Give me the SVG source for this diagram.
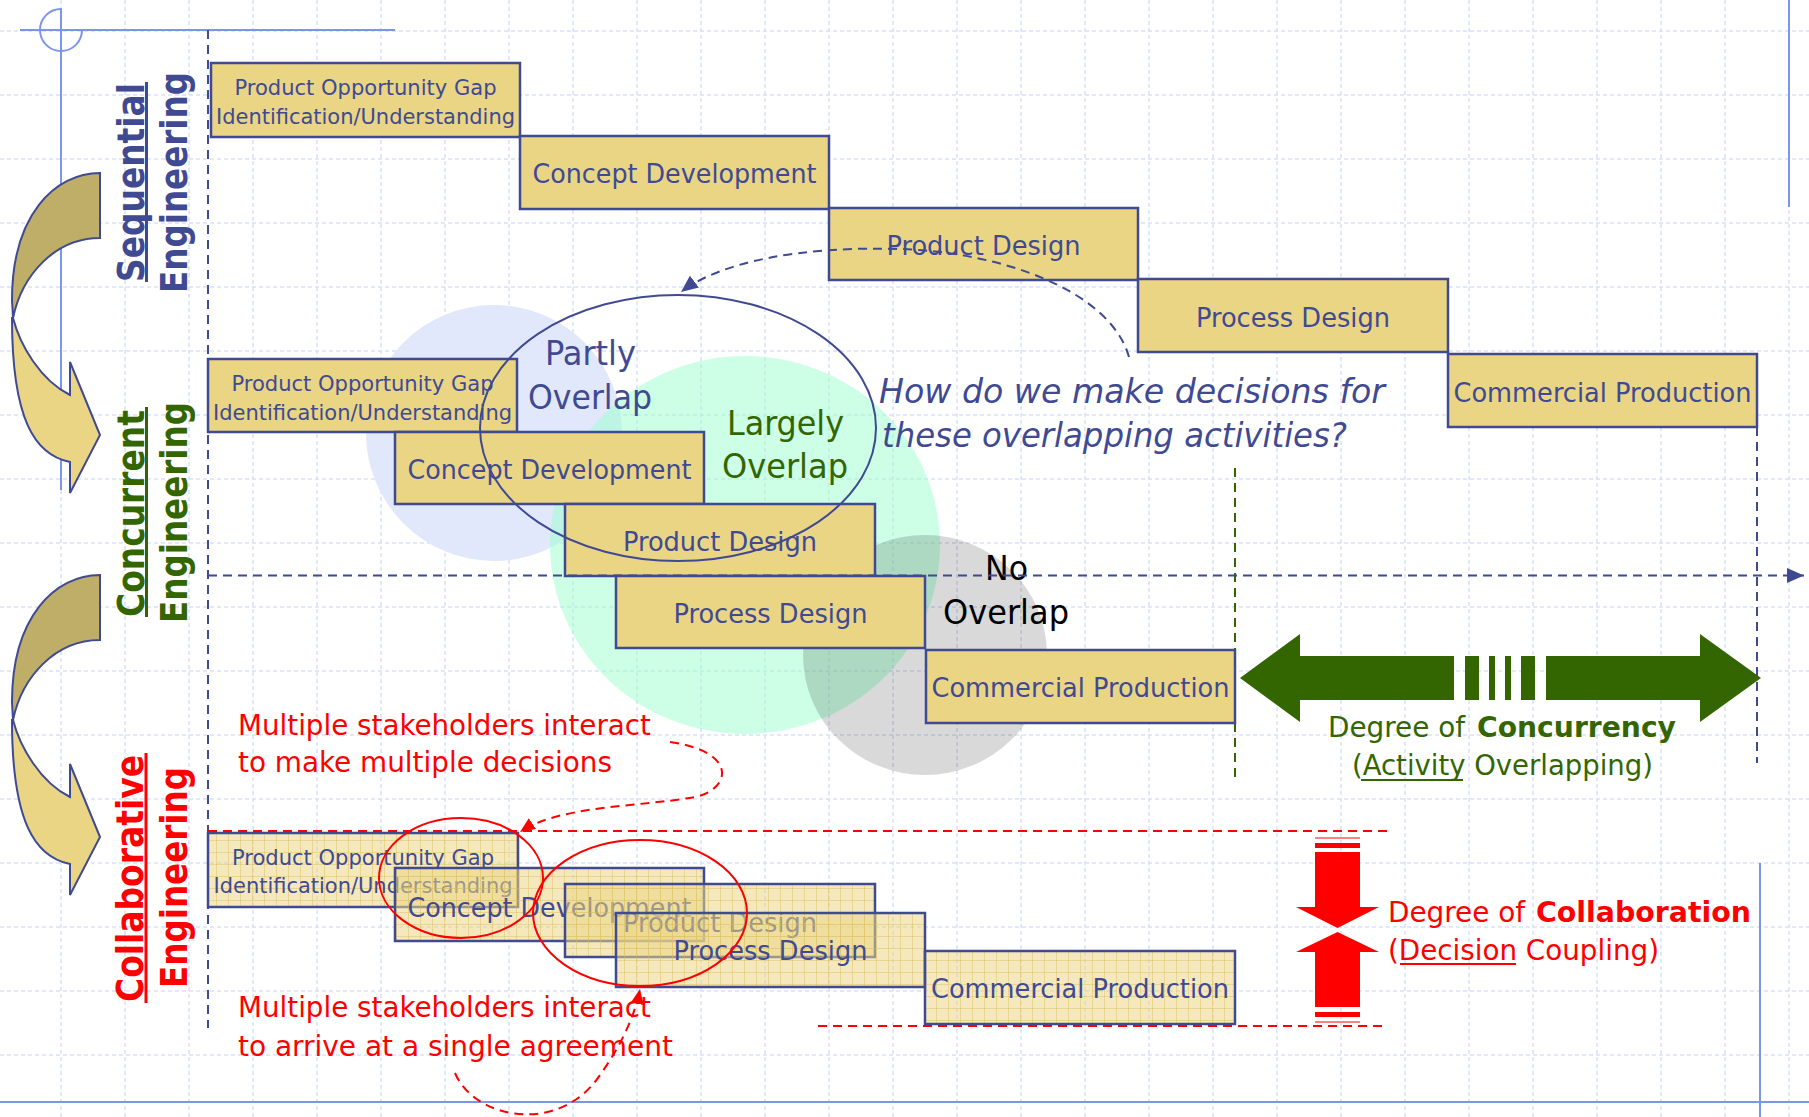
<svg xmlns="http://www.w3.org/2000/svg" xmlns:xlink="http://www.w3.org/1999/xlink" width="1809" height="1117" viewBox="0 0 1809 1117">
<style>
.grid{fill:none;stroke:#d8e1fa;stroke-width:1.5;stroke-dasharray:4 3}
.deco{fill:none;stroke:#7b95ee;stroke-width:2}
.box{fill:#ead584;stroke:#3f4a93;stroke-width:2.5}
.cbox{fill:url(#hatch);stroke:#3f4a93;stroke-width:2.5}
.bt{font-family:"DejaVu Sans Condensed","DejaVu Sans",sans-serif;fill:#3f4a93;text-anchor:middle}
.s22{font-size:22px}
.s26{font-size:26px}
.vl{font-family:"DejaVu Sans",Verdana,sans-serif;font-weight:bold;font-size:38px}
.cn{font-family:"DejaVu Sans Condensed","DejaVu Sans",sans-serif}
.blue{fill:#3f4a93}
.green{fill:#336600}
.red{fill:#ff0000}
.dashB{fill:none;stroke:#3f4a93;stroke-width:2;stroke-dasharray:9 6}
.dashR{fill:none;stroke:#ff0000;stroke-width:2;stroke-dasharray:9 6}
.cab{fill:#bfae68;stroke:#3f4a93;stroke-width:2}
.caf{fill:#ead584;stroke:#3f4a93;stroke-width:2}
</style>
<defs>
<pattern id="hatch" width="12" height="12" patternUnits="userSpaceOnUse">
<rect width="12" height="12" fill="#ead584" fill-opacity="0.55"/>
<path d="M0,0.5H12M0.5,0V12" stroke="#d9bf60" stroke-opacity="0.45" stroke-width="1"/>
</pattern>
<marker id="arrB" markerUnits="userSpaceOnUse" markerWidth="17" markerHeight="15" refX="17" refY="7.5" orient="auto">
<path d="M0,0 L17,7.5 L0,15 Z" fill="#3f4a93"/>
</marker>
<marker id="arrR" markerUnits="userSpaceOnUse" markerWidth="15" markerHeight="13" refX="15" refY="6.5" orient="auto">
<path d="M0,0 L15,6.5 L0,13 Z" fill="#ff0000"/>
</marker>
<g id="curvedArrow">
<path class="cab" d="M100,173 C55,173 12,215 12,300 L13,318 C22,275 55,238 100,238 Z"/>
<path class="caf" d="M13,318 C20,345 40,380 70,395 L70,362 L100,435 L70,493 L70,462 C35,455 12,420 12,318 Z"/>
</g>
</defs>

<rect width="1809" height="1117" fill="#ffffff"/>

<g id="grid">
<path class="grid" d="M61,0V1117M125,0V1117M189,0V1117M253,0V1117M317,0V1117M381,0V1117M445,0V1117M509,0V1117M573,0V1117M637,0V1117M701,0V1117M765,0V1117M829,0V1117M893,0V1117M957,0V1117M1021,0V1117M1085,0V1117M1149,0V1117M1213,0V1117M1277,0V1117M1341,0V1117M1405,0V1117M1469,0V1117M1533,0V1117M1597,0V1117M1661,0V1117M1725,0V1117M1789,0V1117"/>
<path class="grid" d="M0,31H1809M0,95H1809M0,159H1809M0,223H1809M0,287H1809M0,351H1809M0,415H1809M0,479H1809M0,543H1809M0,607H1809M0,671H1809M0,735H1809M0,799H1809M0,863H1809M0,927H1809M0,991H1809M0,1055H1809"/>
</g>

<g id="decoration">
<line class="deco" x1="20" y1="30" x2="395" y2="30"/>
<line class="deco" x1="61" y1="8" x2="61" y2="490"/>
<path class="deco" d="M61,9 A21,21 0 1 0 82,30"/>
<line class="deco" x1="1789" y1="0" x2="1789" y2="207"/>
<line class="deco" x1="0" y1="1102" x2="1809" y2="1102"/>
<line class="deco" x1="1760" y1="863" x2="1760" y2="1117"/>
</g>

<g id="curved-arrow-1"><use xlink:href="#curvedArrow"/></g>
<g id="curved-arrow-2"><use xlink:href="#curvedArrow" transform="translate(0,402)"/></g>

<g id="label-sequential">
<text class="vl blue" transform="translate(143.5,282) rotate(-90)" textLength="199" lengthAdjust="spacingAndGlyphs">Sequential</text>
<rect x="145" y="82" width="3" height="200" class="blue"/>
<text class="vl blue" transform="translate(186.5,293) rotate(-90)" textLength="221" lengthAdjust="spacingAndGlyphs">Engineering</text>
</g>
<g id="label-concurrent">
<text class="vl green" transform="translate(143.5,617) rotate(-90)" textLength="207" lengthAdjust="spacingAndGlyphs">Concurrent</text>
<rect x="145" y="407" width="3" height="210" class="green"/>
<text class="vl green" transform="translate(186.5,623) rotate(-90)" textLength="221" lengthAdjust="spacingAndGlyphs">Engineering</text>
</g>
<g id="label-collaborative">
<text class="vl red" transform="translate(143,1002) rotate(-90)" textLength="247" lengthAdjust="spacingAndGlyphs">Collaborative</text>
<rect x="144.5" y="753" width="3" height="250" class="red"/>
<text class="vl red" transform="translate(186.5,988) rotate(-90)" textLength="221" lengthAdjust="spacingAndGlyphs">Engineering</text>
</g>

<g id="overlap-zones">
<circle cx="494" cy="433" r="128" fill="#e2e8fb"/>
<ellipse cx="745" cy="545" rx="195" ry="189" fill="#99ffcc" fill-opacity="0.5"/>
<ellipse cx="925" cy="655" rx="122" ry="120" fill="#000000" fill-opacity="0.15"/>
</g>

<g id="guides">
<line class="dashB" x1="208" y1="30" x2="208" y2="1028"/>
<line x1="1235" y1="468" x2="1235" y2="783" fill="none" stroke="#336600" stroke-width="2" stroke-dasharray="9 6"/>
<line class="dashB" x1="1757" y1="427" x2="1757" y2="763"/>
<line class="dashR" x1="208" y1="831" x2="1387" y2="831"/>
<line class="dashR" x1="818" y1="1026" x2="1387" y2="1026"/>
</g>

<g id="sequential-nodes">
<g id="seq-pog"><rect class="box" x="211" y="63" width="309" height="74"/>
<text class="bt s22" x="365.5" y="95" textLength="262" lengthAdjust="spacingAndGlyphs">Product Opportunity Gap</text>
<text class="bt s22" x="365.5" y="124" textLength="299" lengthAdjust="spacingAndGlyphs">Identification/Understanding</text></g>
<g id="seq-cd"><rect class="box" x="520" y="136" width="309" height="73"/>
<text class="bt s26" x="674.5" y="183" textLength="284" lengthAdjust="spacingAndGlyphs">Concept Development</text></g>
<g id="seq-pd"><rect class="box" x="829" y="208" width="309" height="72"/>
<text class="bt s26" x="983.5" y="255" textLength="194" lengthAdjust="spacingAndGlyphs">Product Design</text></g>
<g id="seq-procd"><rect class="box" x="1138" y="279" width="310" height="73"/>
<text class="bt s26" x="1293" y="327" textLength="194" lengthAdjust="spacingAndGlyphs">Process Design</text></g>
<g id="seq-cp"><rect class="box" x="1448" y="354" width="309" height="73"/>
<text class="bt s26" x="1602.5" y="402" textLength="298" lengthAdjust="spacingAndGlyphs">Commercial Production</text></g>
</g>

<g id="concurrent-nodes">
<g id="con-pog"><rect class="box" x="208" y="359" width="309" height="73"/>
<text class="bt s22" x="362.5" y="391" textLength="262" lengthAdjust="spacingAndGlyphs">Product Opportunity Gap</text>
<text class="bt s22" x="362.5" y="420" textLength="299" lengthAdjust="spacingAndGlyphs">Identification/Understanding</text></g>
<g id="con-cd"><rect class="box" x="395" y="432" width="309" height="72"/>
<text class="bt s26" x="549.5" y="479" textLength="284" lengthAdjust="spacingAndGlyphs">Concept Development</text></g>
<g id="con-pd"><rect class="box" x="565" y="504" width="310" height="72"/>
<text class="bt s26" x="720" y="551" textLength="194" lengthAdjust="spacingAndGlyphs">Product Design</text></g>
<g id="con-procd"><rect class="box" x="616" y="576" width="309" height="72"/>
<text class="bt s26" x="770.5" y="623" textLength="194" lengthAdjust="spacingAndGlyphs">Process Design</text></g>
<g id="con-cp"><rect class="box" x="926" y="650" width="309" height="73"/>
<text class="bt s26" x="1080.5" y="697" textLength="298" lengthAdjust="spacingAndGlyphs">Commercial Production</text></g>
</g>

<g id="collaborative-nodes">
<g id="col-pog"><rect class="cbox" x="208" y="833" width="310" height="74"/>
<text class="bt s22" x="363" y="865" textLength="262" lengthAdjust="spacingAndGlyphs">Product Opportunity Gap</text>
<text class="bt s22" x="363" y="893" textLength="299" lengthAdjust="spacingAndGlyphs">Identification/Understanding</text></g>
<g id="col-cd"><rect class="cbox" x="395" y="868" width="309" height="73"/>
<text class="bt s26" x="549.5" y="917" textLength="284" lengthAdjust="spacingAndGlyphs">Concept Development</text></g>
<g id="col-pd"><rect class="cbox" x="565" y="884" width="310" height="73"/>
<text class="bt s26" x="720" y="932" textLength="194" lengthAdjust="spacingAndGlyphs">Product Design</text></g>
<g id="col-procd"><rect class="cbox" x="616" y="913" width="309" height="74"/>
<text class="bt s26" x="770.5" y="960" textLength="194" lengthAdjust="spacingAndGlyphs">Process Design</text></g>
<g id="col-cp"><rect class="cbox" x="925" y="951" width="310" height="73"/>
<text class="bt s26" x="1080" y="998" textLength="298" lengthAdjust="spacingAndGlyphs">Commercial Production</text></g>
</g>

<g id="overlap-labels">
<ellipse cx="678" cy="428" rx="198" ry="133" fill="none" stroke="#3f4a93" stroke-width="2"/>
<text class="cn blue" font-size="34" x="545" y="365" textLength="91" lengthAdjust="spacingAndGlyphs">Partly</text>
<text class="cn blue" font-size="34" x="528" y="409" textLength="124" lengthAdjust="spacingAndGlyphs">Overlap</text>
<text class="cn green" font-size="34" x="727" y="435" textLength="117" lengthAdjust="spacingAndGlyphs">Largely</text>
<text class="cn green" font-size="34" x="722" y="478" textLength="126" lengthAdjust="spacingAndGlyphs">Overlap</text>
<text class="cn" fill="#000000" font-size="34" x="985" y="580" textLength="43" lengthAdjust="spacingAndGlyphs">No</text>
<text class="cn" fill="#000000" font-size="34" x="943" y="624" textLength="126" lengthAdjust="spacingAndGlyphs">Overlap</text>
<text class="cn blue" font-size="33" font-style="italic" x="879" y="403" textLength="506" lengthAdjust="spacingAndGlyphs">How do we make decisions for</text>
<text class="cn blue" font-size="33" font-style="italic" x="882" y="447" textLength="465" lengthAdjust="spacingAndGlyphs">these overlapping activities?</text>
</g>

<g id="collaboration-notes">
<ellipse cx="461" cy="878" rx="82" ry="60" fill="none" stroke="#ff0000" stroke-width="2"/>
<ellipse cx="640" cy="913" rx="107" ry="73" fill="none" stroke="#ff0000" stroke-width="2"/>
<text class="cn red" font-size="28" x="238" y="735" textLength="413" lengthAdjust="spacingAndGlyphs">Multiple stakeholders interact</text>
<text class="cn red" font-size="28" x="238" y="772" textLength="374" lengthAdjust="spacingAndGlyphs">to make multiple decisions</text>
<text class="cn red" font-size="28" x="238" y="1017" textLength="413" lengthAdjust="spacingAndGlyphs">Multiple stakeholders interact</text>
<text class="cn red" font-size="28" x="238" y="1056" textLength="435" lengthAdjust="spacingAndGlyphs">to arrive at a single agreement</text>
</g>

<g id="concurrency-scale">
<path class="green" d="M1240,678 L1300,634 L1300,656 L1454,656 L1454,700 L1300,700 L1300,722 Z"/>
<rect class="green" x="1465" y="656" width="14" height="44"/>
<rect class="green" x="1489" y="656" width="6" height="44"/>
<rect class="green" x="1505" y="656" width="6" height="44"/>
<rect class="green" x="1521" y="656" width="14" height="44"/>
<path class="green" d="M1546,656 L1700,656 L1700,634 L1761,678 L1700,722 L1700,700 L1546,700 Z"/>
<text class="cn green" font-size="29" x="1328" y="737" textLength="137" lengthAdjust="spacingAndGlyphs">Degree of</text>
<text class="cn green" font-size="29" font-weight="bold" x="1477" y="737" textLength="199" lengthAdjust="spacingAndGlyphs">Concurrency</text>
<text class="cn green" font-size="29" x="1352" y="775" textLength="301" lengthAdjust="spacingAndGlyphs">(Activity Overlapping)</text>
<rect class="green" x="1361" y="779" width="102" height="2"/>
</g>

<g id="collaboration-scale">
<rect x="1315" y="837" width="45" height="2" fill="#ff8080"/>
<rect class="red" x="1315" y="843" width="45" height="5"/>
<path class="red" d="M1315,852 L1360,852 L1360,907 L1379,907 L1337.5,928 L1296,907 L1315,907 Z"/>
<path class="red" d="M1337.5,932 L1379,952 L1360,952 L1360,1007 L1315,1007 L1315,952 L1296,952 Z"/>
<rect class="red" x="1315" y="1012" width="45" height="5"/>
<rect x="1315" y="1021" width="45" height="2" fill="#ff8080"/>
<text class="cn red" font-size="29" x="1388" y="922" textLength="137" lengthAdjust="spacingAndGlyphs">Degree of</text>
<text class="cn red" font-size="29" font-weight="bold" x="1536" y="922" textLength="215" lengthAdjust="spacingAndGlyphs">Collaboration</text>
<text class="cn red" font-size="29" x="1388" y="960" textLength="271" lengthAdjust="spacingAndGlyphs">(Decision Coupling)</text>
<rect class="red" x="1400" y="963" width="116" height="2"/>
</g>

<g id="connectors">
<line class="dashB" x1="208" y1="575.5" x2="1804" y2="575.5" marker-end="url(#arrB)"/>
<path class="dashB" d="M1129,357 C1110,290 1000,252 900,249 C800,246 720,262 681,292" marker-end="url(#arrB)"/>
<path class="dashR" d="M670,742 C740,752 730,790 695,797 C640,807 560,805 520,832" marker-end="url(#arrR)"/>
<path class="dashR" d="M455,1073 C475,1120 560,1135 600,1075 C625,1040 636,1010 640,989" marker-end="url(#arrR)"/>
</g>
</svg>
